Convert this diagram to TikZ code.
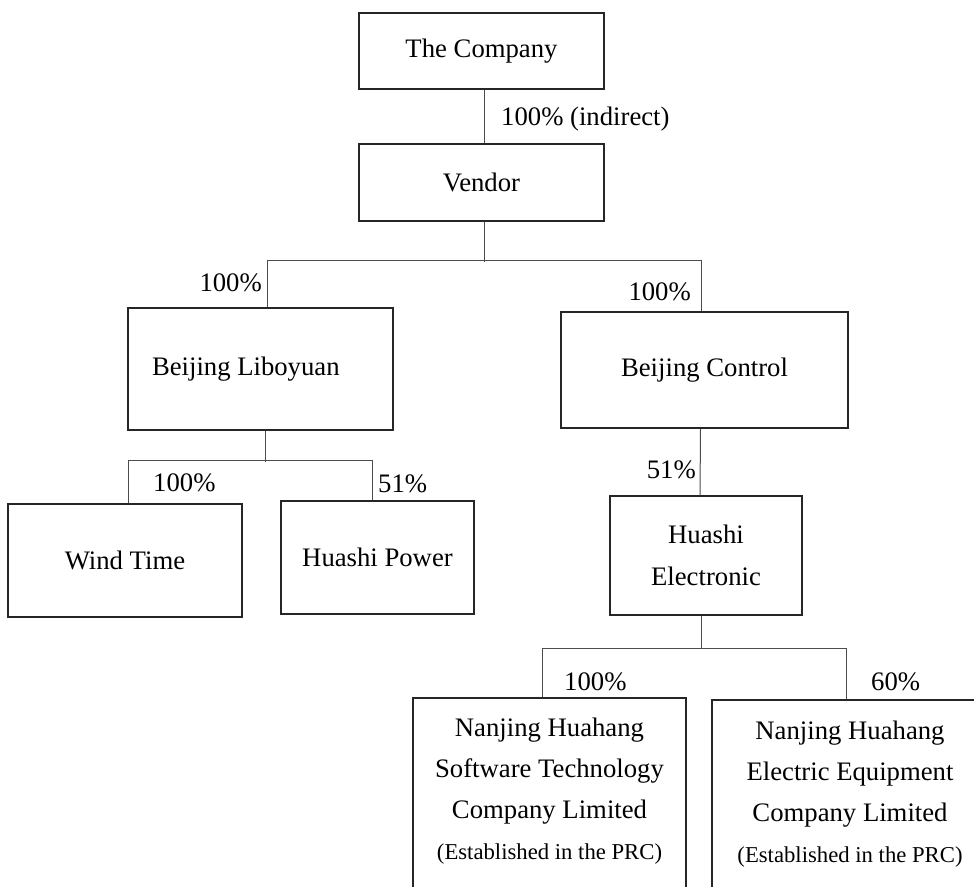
\documentclass[tikz,border=0pt]{standalone}
\usepackage{fontspec}
\setmainfont{Liberation Serif}
\usepackage{xcolor}
\usepackage{tikz}
\usetikzlibrary{positioning}

\newcommand{\mainsize}{\fontsize{26.7}{41}\selectfont}
\newcommand{\notesize}{\fontsize{22.7}{27}\selectfont}

\begin{document}
\begin{tikzpicture}[x=1pt, y=-1pt,
    entity/.style={draw=black!85, line width=1.5pt, inner sep=0pt, font=\mainsize, align=center},
    link/.style={draw=black!70, line width=1pt},
    share/.style={font=\mainsize, inner sep=0pt},
    blurb/.style={font=\mainsize, inner sep=0pt, align=center}]
    \useasboundingbox (0,0) rectangle (974,886);

    % Top of the group
    \node[entity, minimum width=245pt, minimum height=76pt] (company) at (481.5,51) {The Company};
    \node[entity, minimum width=245pt, minimum height=77pt] (vendor) at (481.5,182.5) {Vendor};

    % Second level
    \node[entity, minimum width=265pt, minimum height=122pt, text width=217pt, align=flush left, inner xsep=24pt] (liboyuan) at (260.5,369) {Beijing Liboyuan};
    \node[entity, minimum width=287pt, minimum height=116pt] (control) at (704.5,370) {Beijing Control};

    % Third level
    \node[entity, minimum width=234pt, minimum height=113pt] (windtime) at (125,560.5) {Wind Time};
    \node[entity, minimum width=193pt, minimum height=113pt] (power) at (377.5,557.5) {Huashi Power};
    \node[entity, minimum width=192pt, minimum height=119pt, font=\fontsize{26.7}{42}\selectfont] (electronic) at (706,555.5) {Huashi\\Electronic};

    % Bottom level, boxes run off the page
    \node[entity, anchor=north, minimum width=273pt, minimum height=230pt] (software) at (549.5,697) {};
    \node[entity, anchor=north, minimum width=276pt, minimum height=230pt] (electric) at (850,699) {};
    \node[blurb, below=21pt of software.north] (softwaretext) {Nanjing Huahang\\Software Technology\\Company Limited\\{\notesize (Established in the PRC)}};
    \node[blurb, below=22pt of electric.north] (electrictext) {Nanjing Huahang\\Electric Equipment\\Company Limited\\{\notesize (Established in the PRC)}};

    % Ownership lines (not quite centred on the boxes)
    \draw[link] ([xshift=2.5pt]company.south) -- ([xshift=2.5pt]vendor.north);
    \draw[link] ([xshift=2.5pt]vendor.south) -- ++(0,40);
    \draw[link] ([xshift=6.5pt]liboyuan.north) -- ++(0,-47) -| ([xshift=-3.5pt]control.north);
    \draw[link] ([xshift=4.5pt]liboyuan.south) -- ++(0,31);
    \draw[link] ([xshift=3pt]windtime.north) -- ++(0,-43) -| ([xshift=-5.5pt]power.north);
    \draw[link] ([xshift=-4pt]control.south) -- ([xshift=-6pt]electronic.north);
    \draw[link] ([xshift=-5pt]electronic.south) -- ++(0,33);
    \draw[link] ([xshift=-7.5pt]software.north) -- ++(0,-49) -| ([xshift=-4pt]electric.north);

    % Shareholdings
    \node[share, anchor=west] (indirect) at (501,119) {100\% (indirect)};
    \node[share, anchor=east] (pctlib) at (262,283) {100\%};
    \node[share, anchor=east] (pctctl) at (691,292) {100\%};
    \node[share, anchor=west] (pctwind) at (153,483) {100\%};
    \node[share, anchor=west] (pctpower) at (378,484) {51\%};
    \node[share, anchor=east] (pctelec) at (696,470) {51\%};
    \node[share, anchor=west] (pctsoft) at (564,682) {100\%};
    \node[share, anchor=west] (pctequip) at (871,682) {60\%};
\end{tikzpicture}
\end{document}
